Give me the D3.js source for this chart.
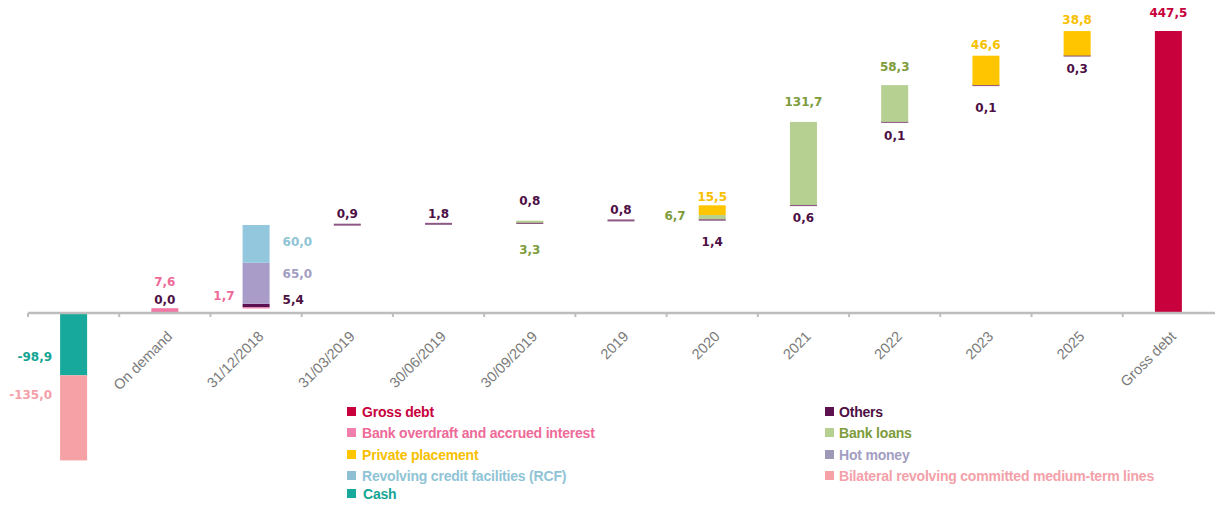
<!DOCTYPE html>
<html><head><meta charset="utf-8">
<script src="https://cdn.jsdelivr.net/npm/d3@7"></script>
<style>body{margin:0;background:#fff} svg{display:block}</style>
</head><body>
<svg id="chart" width="1215" height="506"></svg>
<script>
// ---------- DATA ----------
const categories = ["", "On demand", "31/12/2018", "31/03/2019", "30/06/2019", "30/09/2019", "2019", "2020", "2021", "2022", "2023", "2025", "Gross debt"];
const cash =             [-98.9, null, null, null, null, null, null, null, null, null, null, null, null];
const bilateral =        [-135.0, null, null, null, null, null, null, null, null, null, null, null, null];
const bankOverdraft =    [null, 7.6, 1.7, null, null, null, null, null, null, null, null, null, null];
const others =           [null, 0.0, 5.4, 0.9, 1.8, 0.8, 0.8, 1.4, 0.6, 0.1, 0.1, 0.3, null];
const bankLoans =        [null, null, null, null, null, 3.3, null, 6.7, 131.7, 58.3, null, null, null];
const hotMoney =         [null, null, 65.0, null, null, null, null, null, null, null, null, null, null];
const rcf =              [null, null, 60.0, null, null, null, null, null, null, null, null, null, null];
const privatePlacement = [null, null, null, null, null, null, null, 15.5, null, null, 46.6, 38.8, null];
const grossDebt =        [null, null, null, null, null, null, null, null, null, null, null, null, 447.5];

// ---------- STYLE ----------
const series = [
  {key:"grossDebt", name:"Gross debt", values:grossDebt, bar:"#c8003c", text:"#c8003c", sq:"#c8003c", col:0, row:0},
  {key:"bankOverdraft", name:"Bank overdraft and accrued interest", values:bankOverdraft, bar:"#f277a6", text:"#ee6a98", sq:"#f27fab", col:0, row:1},
  {key:"privatePlacement", name:"Private placement", values:privatePlacement, bar:"#ffc600", text:"#f7c000", sq:"#ffc600", col:0, row:2},
  {key:"rcf", name:"Revolving credit facilities (RCF)", values:rcf, bar:"#93c7dd", text:"#8fc4d6", sq:"#8fbfd2", col:0, row:3},
  {key:"cash", name:"Cash", values:cash, bar:"#17a99b", text:"#14a594", sq:"#17a99b", col:0, row:4},
  {key:"others", name:"Others", values:others, bar:"#5c1150", text:"#4e0f45", sq:"#5c1150", col:1, row:0},
  {key:"bankLoans", name:"Bank loans", values:bankLoans, bar:"#b6d092", text:"#7e9c3c", sq:"#b6d092", col:1, row:1},
  {key:"hotMoney", name:"Hot money", values:hotMoney, bar:"#a99cc9", text:"#a29ec2", sq:"#9d99b6", col:1, row:2},
  {key:"bilateral", name:"Bilateral revolving committed medium-term lines", values:bilateral, bar:"#f6a1a6", text:"#f4a0a8", sq:"#f6a1a6", col:1, row:3}
];
const posOrder = ["bankOverdraft","others","bankLoans","hotMoney","rcf","privatePlacement"];
const negOrder = ["cash","bilateral"];

// label placement: pos (above/below/left/right), gap in px, dy nudge
const labelLayout = [
  {s:"cash", c:0, pos:"left", gap:8, dy:13},
  {s:"bilateral", c:0, pos:"left", gap:8, dy:-23},
  {s:"bankOverdraft", c:1, pos:"above", gap:26},
  {s:"others", c:1, pos:"above", gap:8},
  {s:"bankOverdraft", c:2, pos:"left", gap:8, dy:-12},
  {s:"others", c:2, pos:"right", gap:13, dy:-5},
  {s:"hotMoney", c:2, pos:"right", gap:13, dy:-9},
  {s:"rcf", c:2, pos:"right", gap:13, dy:-2},
  {s:"others", c:3, pos:"above", gap:10},
  {s:"others", c:4, pos:"above", gap:9},
  {s:"others", c:5, pos:"above", gap:22},
  {s:"bankLoans", c:5, pos:"below", gap:27},
  {s:"others", c:6, pos:"above", gap:10},
  {s:"privatePlacement", c:7, pos:"above", gap:8},
  {s:"bankLoans", c:7, pos:"left", gap:13, dy:-1},
  {s:"others", c:7, pos:"below", gap:22},
  {s:"bankLoans", c:8, pos:"above", gap:20},
  {s:"others", c:8, pos:"below", gap:13},
  {s:"bankLoans", c:9, pos:"above", gap:18},
  {s:"others", c:9, pos:"below", gap:14},
  {s:"privatePlacement", c:10, pos:"above", gap:11},
  {s:"others", c:10, pos:"below", gap:23},
  {s:"privatePlacement", c:11, pos:"above", gap:11},
  {s:"others", c:11, pos:"below", gap:13},
  {s:"grossDebt", c:12, pos:"above", gap:18}
];

// ---------- LAYOUT ----------
const svg = d3.select("#chart");
const x = d3.scaleBand().domain(categories.map((d,i)=>i)).range([28, 1214]).paddingInner(0).paddingOuter(0);
const barW = 27;
const y = d3.scaleLinear().domain([0, 447.5]).range([313, 31]);

// compute segments
const segs = [];
const byKey = Object.fromEntries(series.map(s=>[s.key,s]));
let running = 0;
categories.forEach((c,i)=>{
  const g = grossDebt[i];
  if (g != null) segs.push({s:"grossDebt", c:i, v:g, a:0, b:g});
  let nb = 0;
  negOrder.forEach(k=>{
    const v = byKey[k].values[i];
    if (v != null) { segs.push({s:k, c:i, v, a:nb, b:nb+v}); nb += v; }
  });
  posOrder.forEach(k=>{
    const v = byKey[k].values[i];
    if (v != null) { segs.push({s:k, c:i, v, a:running, b:running+v}); running += v; }
  });
});

const cx = i => x(i) + x.bandwidth()/2;
const hOf = d => Math.abs(y(d.a)-y(d.b));

// bars
svg.append("g").selectAll("rect").data(segs.filter(d=>d.v !== 0)).join("rect")
  .attr("x", d=>cx(d.c) - barW/2)
  .attr("width", barW)
  .attr("y", d=>{
    const top = Math.min(y(d.a), y(d.b));
    const h = hOf(d);
    return h < 2 ? (top + h/2 - 1) : top;
  })
  .attr("height", d=>Math.max(2, hOf(d)))
  .attr("fill", d=>byKey[d.s].bar)
  .attr("fill-opacity", d=>hOf(d) < 2 ? 0.7 : 1);

// axis
const axisG = svg.append("g").attr("transform", "translate(0,313)");
axisG.append("line").attr("x1", 28).attr("x2", 1215).attr("y1", 0).attr("y2", 0)
  .attr("stroke", "#bdbdbd").attr("stroke-width", 2.5);
const bounds = categories.map((d,i)=>x(i));
axisG.selectAll("line.tick").data(bounds).join("line").attr("class","tick")
  .attr("x1", d=>d).attr("x2", d=>d).attr("y1", 0).attr("y2", 4)
  .attr("stroke", "#bdbdbd").attr("stroke-width", 2);
axisG.selectAll("text").data(categories.map((d,i)=>({d,i})).filter(o=>o.d)).join("text")
  .attr("transform", o=>`translate(${cx(o.i)+1},${17}) rotate(-45)`)
  .attr("text-anchor", "end")
  .attr("dominant-baseline", "hanging")
  .attr("font-family", "Liberation Sans, Arial, sans-serif")
  .attr("font-size", 14.5)
  .attr("fill", "#7a7a7a")
  .text(o=>o.d);

// labels
const fmt = v => d3.format(".1f")(v).replace(".", ",").replace("−","-");
const lab = svg.append("g").attr("font-family", "DejaVu Sans, Verdana, sans-serif")
  .attr("font-size", 12).attr("font-weight", "bold");
labelLayout.forEach(L=>{
  const seg = segs.find(d=>d.s===L.s && d.c===L.c);
  if (!seg) return;
  const top = Math.min(y(seg.a), y(seg.b)), bot = Math.max(y(seg.a), y(seg.b));
  const mid = (top+bot)/2;
  let tx = cx(seg.c), ty = mid, anchor = "middle";
  if (L.pos === "above") ty = top - L.gap;
  else if (L.pos === "below") ty = bot + L.gap;
  else if (L.pos === "left") { tx = cx(seg.c) - barW/2 - L.gap; anchor = "end"; }
  else if (L.pos === "right") { tx = cx(seg.c) + barW/2 + L.gap; anchor = "start"; }
  ty += (L.dy || 0);
  lab.append("text").attr("x", tx).attr("y", ty)
    .attr("text-anchor", anchor).attr("dominant-baseline", "central")
    .attr("fill", byKey[L.s].text)
    .text(fmt(seg.v));
});

// legend
const legendCols = [{sq:347, tx:362}, {sq:825, tx:839}];
const legendRows = [412, 433, 455, 476, 494];
const leg = svg.append("g").attr("font-family", "Liberation Sans, Arial, sans-serif")
  .attr("font-size", 14).attr("font-weight", "bold");
series.forEach(s=>{
  const C = legendCols[s.col], ry = legendRows[s.row];
  leg.append("rect").attr("x", C.sq).attr("y", ry-5).attr("width", 9).attr("height", 9).attr("fill", s.sq);
  leg.append("text").attr("x", C.tx + (s.key==="cash"?1:0)).attr("y", ry).attr("dominant-baseline", "central")
    .attr("fill", s.text).attr("letter-spacing", -0.2).text(s.name);
});
</script>
</body></html>
